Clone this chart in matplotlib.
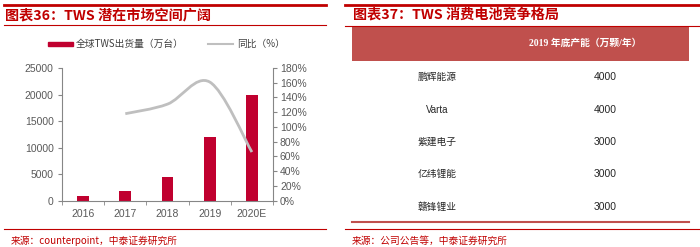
import numpy as np
import matplotlib.pyplot as plt
from matplotlib.path import Path
from matplotlib.patches import PathPatch, Rectangle
from matplotlib.ticker import FuncFormatter

plt.rcParams['font.family'] = ['Liberation Sans', 'Noto Sans CJK SC']

# Left chart data: TWS shipments (10k units) and yoy growth (%)
years = ['2016', '2017', '2018', '2019', '2020E']
shipments = [800, 1900, 4500, 12000, 20000]
yoy_years = ['2017', '2018', '2019', '2020E']
yoy_pct = [118, 131, 161, 66]
left_ticks = [0, 5000, 10000, 15000, 20000, 25000]
right_ticks = [0, 20, 40, 60, 80, 100, 120, 140, 160, 180]

# Right table data: 2019 year-end capacity
table_header = '2019 年底产能（万颗/年）'
companies = ['鹏辉能源', 'Varta', '紫建电子', '亿纬锂能', '赣锋锂业']
capacity = [4000, 4000, 3000, 3000, 3000]

title_left = '图表36：TWS 潜在市场空间广阔'
title_right = '图表37：TWS 消费电池竞争格局'
source_left = '来源：counterpoint，中泰证券研究所'
source_right = '来源：公司公告等，中泰证券研究所'
legend_bar = '全球TWS出货量（万台）'
legend_line = '同比（%）'

RED = '#C00000'
BAR = '#C0002F'
HEAD = '#C0504D'
GRAY_LINE = '#BFBFBF'
AXIS = '#868686'
CJK = ['Noto Sans CJK SC', 'DejaVu Sans']

W, H = 700, 247
fig = plt.figure(figsize=(W / 100, H / 100), dpi=100)

# Overlay axes in pixel coordinates for frame lines, titles and the table
ov = fig.add_axes([0, 0, 1, 1], zorder=0)
ov.set_xlim(0, W)
ov.set_ylim(H, 0)
ov.axis('off')


def smooth_path(xs, ys):
    """Bezier path through the points (Catmull-Rom style, like office smoothing)."""
    pts = np.column_stack([xs, ys]).astype(float)
    p = np.vstack([pts[0], pts, pts[-1]])
    verts = [pts[0]]
    codes = [Path.MOVETO]
    for i in range(1, len(p) - 2):
        c1 = p[i] + (p[i + 1] - p[i - 1]) / 6
        c2 = p[i + 1] - (p[i + 2] - p[i]) / 6
        verts += [c1, c2, p[i + 1]]
        codes += [Path.CURVE4] * 3
    return Path(verts, codes)


# ---- left panel frame ----
ov.plot([4, 326], [5, 5], color=RED, lw=2)
ov.plot([4, 326], [25, 25], color=RED, lw=0.8)
ov.plot([4, 326], [229, 229], color=RED, lw=0.8)
ov.text(5, 15, title_left, color=RED, fontsize=10.2, fontweight='bold',
        family=CJK, va='center', ha='left')
ov.text(11, 241, source_left, color=RED, fontsize=7, family=CJK,
        va='center', ha='left')

# legend
ov.add_patch(Rectangle((48, 42), 25, 4.5, color=BAR))
ov.text(76, 44, legend_bar, fontsize=7, family=CJK, color='#404040',
        va='center', ha='left')
ov.plot([208, 233], [44, 44], color=GRAY_LINE, lw=1.5)
ov.text(237, 44, legend_line, fontsize=7, family=CJK, color='#404040',
        va='center', ha='left')

# ---- chart ----
ax = fig.add_axes([62 / W, (H - 200.7) / H, 211 / W, 132.7 / H], zorder=1)
ax.patch.set_visible(False)
x = np.arange(len(years))
ax.bar(x, shipments, width=0.28, color=BAR, zorder=2)
ax.set_xlim(-0.5, len(years) - 0.5)
ax.set_ylim(0, 25000)
ax.set_yticks(left_ticks)
ax.set_xticks(x)
ax.set_xticklabels(years)
ax.set_xticks(np.arange(len(years) + 1) - 0.5, minor=True)
ax.tick_params(axis='x', which='major', length=0, pad=6, labelsize=7.5,
               labelcolor='#595959')
ax.tick_params(axis='x', which='minor', length=3, color=AXIS)
ax.tick_params(axis='y', length=3, color=AXIS, labelsize=7.5,
               labelcolor='#595959', pad=3)
for s in ['top', 'right']:
    ax.spines[s].set_visible(False)
for s in ['left', 'bottom']:
    ax.spines[s].set_color(AXIS)
    ax.spines[s].set_linewidth(0.8)

ax2 = ax.twinx()
ax2.set_ylim(0, 180)
ax2.set_yticks(right_ticks)
ax2.yaxis.set_major_formatter(FuncFormatter(lambda v, p: '%d%%' % v))
ax2.tick_params(axis='y', length=3, color=AXIS, labelsize=7.5,
                labelcolor='#595959', pad=2)
for s in ['top', 'left', 'bottom']:
    ax2.spines[s].set_visible(False)
ax2.spines['right'].set_color(AXIS)
ax2.spines['right'].set_linewidth(0.8)
yoy_x = [years.index(y) for y in yoy_years]
ax2.add_patch(PathPatch(smooth_path(yoy_x, yoy_pct), facecolor='none',
                        edgecolor=GRAY_LINE, lw=2, zorder=3))

# ---- right panel ----
ov.plot([345, 700], [5, 5], color=RED, lw=2)
ov.plot([345, 700], [26, 26], color=RED, lw=0.8)
ov.plot([345, 700], [229, 229], color=RED, lw=0.8)
ov.text(353, 15, title_right, color=RED, fontsize=10.2, fontweight='bold',
        family=CJK, va='center', ha='left')
ov.text(352, 241, source_right, color=RED, fontsize=7, family=CJK,
        va='center', ha='left')

ov.add_patch(Rectangle((352, 27), 337, 34, color=HEAD, lw=0))
ov.text(585, 43, table_header, color='white', fontsize=7, fontweight='bold',
        family=['Liberation Serif', 'Noto Sans CJK SC'], va='center',
        ha='center')
row_y = [77, 110, 142, 174, 207]
for name, cap, ry in zip(companies, capacity, row_y):
    ov.text(437, ry, name, fontsize=7, family=['Liberation Sans', 'Noto Sans CJK SC'],
            color='#262626', va='center', ha='center')
    ov.text(605, ry, str(cap), fontsize=7.5, color='#262626',
            va='center', ha='center')
ov.plot([352, 689], [222, 222], color=HEAD, lw=1.5)

fig.savefig('out.png', dpi=100)
